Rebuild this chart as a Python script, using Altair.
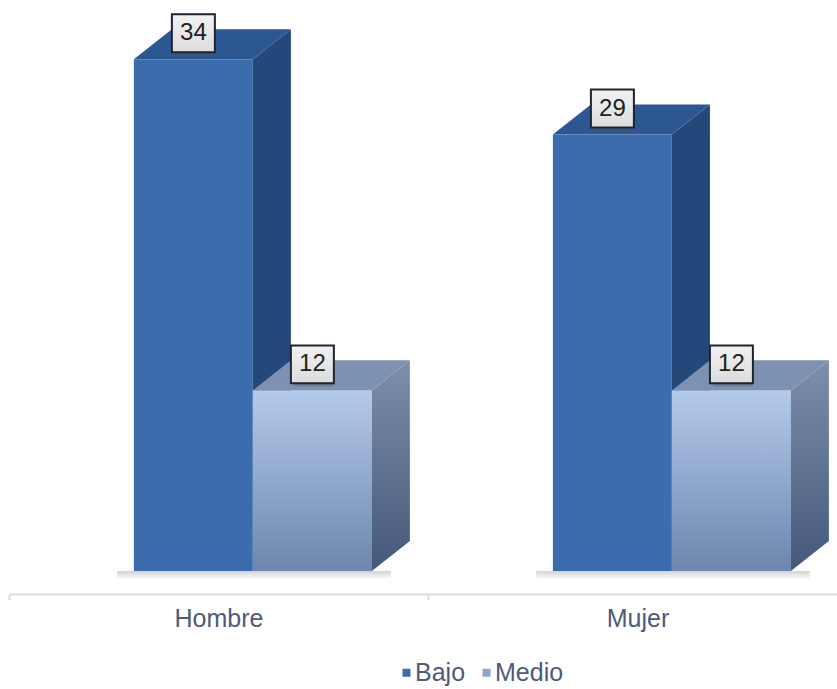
import altair as alt
import pandas as pd

# ---- data ----
categories = ["Hombre", "Mujer"]
series = ["Bajo", "Medio"]
bajo = [34, 29]
medio = [12, 12]

# ---- layout constants (data units) ----
BAR_START = 0.298   # offset of the first bar inside its category
BAR_W = 0.284       # bar width
DEPTH_X = 0.0907    # 3D depth, horizontal
DEPTH_Y = 2.0       # 3D depth, vertical
X_MAX = 1.976
Y_MIN, Y_MAX = -1.53, 37.94
BOX_HALF = 0.0513
FONT = "Liberation Sans"
TXT = "#4e5a78"

values = {"Bajo": bajo, "Medio": medio}

front, side, top, boxes, shadow = [], [], [], [], []
for ci, cat in enumerate(categories):
    g_left = ci + BAR_START
    g_right = g_left + BAR_W * len(series)
    shadow.append(dict(id=cat, x=g_left - 0.04, x2=g_right + DEPTH_X * 0.5, y=-0.55, y2=0.0))
    for si, s in enumerate(series):
        v = values[s][ci]
        xl = ci + BAR_START + si * BAR_W
        xr = xl + BAR_W
        bid = f"{cat}-{s}"
        front.append(dict(id=bid, serie=s, x=xl, x2=xr, y=0, y2=v))
        side += [dict(id=bid, serie=s, x=xr, lo=0, hi=v),
                 dict(id=bid, serie=s, x=xr + DEPTH_X, lo=DEPTH_Y, hi=v + DEPTH_Y)]
        top += [dict(id=bid, serie=s, y=v, l=xl, r=xr),
                dict(id=bid, serie=s, y=v + DEPTH_Y, l=xl + DEPTH_X, r=xr + DEPTH_X)]
        cx = (xl + xr) / 2
        boxes.append(dict(id=bid, serie=s, label=str(v), x=cx - BOX_HALF, x2=cx + BOX_HALF,
                          cx=cx, y=v + 0.47, y2=v + 2.99, ty=v + 1.73))

front_df = pd.DataFrame(front)
side_df = pd.DataFrame(side)
top_df = pd.DataFrame(top)
box_df = pd.DataFrame(boxes)
shadow_df = pd.DataFrame(shadow)

xscale = alt.Scale(domain=[0, X_MAX], nice=False, zero=False)
yscale = alt.Scale(domain=[Y_MIN, Y_MAX], nice=False, zero=False)

label_expr = " : ".join(
    f"datum.value == {i + 0.5} ? '{c}'" for i, c in enumerate(categories)
) + " : ''"

xaxis = alt.Axis(
    values=[0, 0.5, 1, 1.5],
    labelExpr=label_expr,
    title=None,
    grid=False,
    domainColor="#d9dbe3",
    domainWidth=2,
    tickColor="#d9dbe3",
    tickWidth=2,
    tickSize=6,
    tickOpacity={"condition": {"test": "datum.value % 1 == 0", "value": 1}, "value": 0},
    labelFont=FONT,
    labelFontSize=25,
    labelColor=TXT,
    labelPadding=6,
    labelOverlap=False,
    labelBound=False,
    labelFlush=False,
)


def grad(c_top, c_bot):
    return alt.Gradient(
        gradient="linear",
        stops=[alt.GradientStop(color=c_top, offset=0), alt.GradientStop(color=c_bot, offset=1)],
        x1=0, x2=0, y1=0, y2=1,
    )


def X(f):
    return alt.X(f, scale=xscale, axis=xaxis)


def Y(f):
    return alt.Y(f, scale=yscale, axis=None)


# floor shadow
shadow_l = alt.Chart(shadow_df).mark_rect(fill=grad("#9a9a9a", "#ffffff"), opacity=0.45).encode(
    x=X("x:Q"), x2="x2:Q", y=Y("y:Q"), y2="y2:Q")


def side_layer(s, fill):
    return alt.Chart(side_df[side_df.serie == s]).mark_area(fill=fill).encode(
        x=X("x:Q"), y=Y("lo:Q"), y2="hi:Q", detail="id:N")


def top_layer(s, fill):
    return alt.Chart(top_df[top_df.serie == s]).mark_area(orient="horizontal", fill=fill).encode(
        y=Y("y:Q"), x=X("l:Q"), x2="r:Q", detail="id:N")


bajo_side = side_layer("Bajo", "#24487a")
bajo_top = top_layer("Bajo", "#2d5791")
medio_side = side_layer("Medio", grad("#7e8eab", "#44587a"))
medio_top = top_layer("Medio", "#7d92b3")

front_l = alt.Chart(front_df).mark_rect().encode(
    x=X("x:Q"), x2="x2:Q", y=Y("y:Q"), y2="y2:Q",
    color=alt.Color(
        "serie:N",
        scale=alt.Scale(domain=series, range=["#3a6cae", "#8fa4c7"]),
        legend=alt.Legend(
            title=None, orient="none", legendX=385, legendY=660, direction="horizontal",
            symbolType="square", symbolSize=64, symbolStrokeWidth=0,
            labelFont=FONT, labelFontSize=25, labelColor=TXT,
            labelOffset={"expr": "-4"}, columnPadding=8, padding=0,
        ),
    ),
)
medio_front = alt.Chart(front_df[front_df.serie == "Medio"]).mark_rect(
    fill=grad("#b4caeb", "#6c86ad")).encode(x=X("x:Q"), x2="x2:Q", y=Y("y:Q"), y2="y2:Q")

box_shadow = alt.Chart(box_df).mark_rect(color="#555555", opacity=0.35, xOffset=3, yOffset=3).encode(
    x=X("x:Q"), x2="x2:Q", y=Y("y:Q"), y2="y2:Q")
box_l = alt.Chart(box_df).mark_rect(fill=grad("#f2f2f2", "#dcdcdc"), stroke="#1d2433", strokeWidth=2).encode(
    x=X("x:Q"), x2="x2:Q", y=Y("y:Q"), y2="y2:Q")
box_t = alt.Chart(box_df).mark_text(font=FONT, fontSize=24, color="#222222", baseline="middle", align="center").encode(
    x=X("cx:Q"), y=Y("ty:Q"), text="label:N")

chart = alt.layer(
    shadow_l, bajo_side, bajo_top, front_l, medio_side, medio_top, medio_front,
    box_shadow, box_l, box_t,
).properties(
    width=828, height=594,
    padding={"left": 9, "top": 0, "right": 0, "bottom": 95},
    autosize=alt.AutoSizeParams(type="none"),
    background="white",
).configure_view(stroke=None)

chart.save("out.html", embed_options={"renderer": "svg", "actions": False})
